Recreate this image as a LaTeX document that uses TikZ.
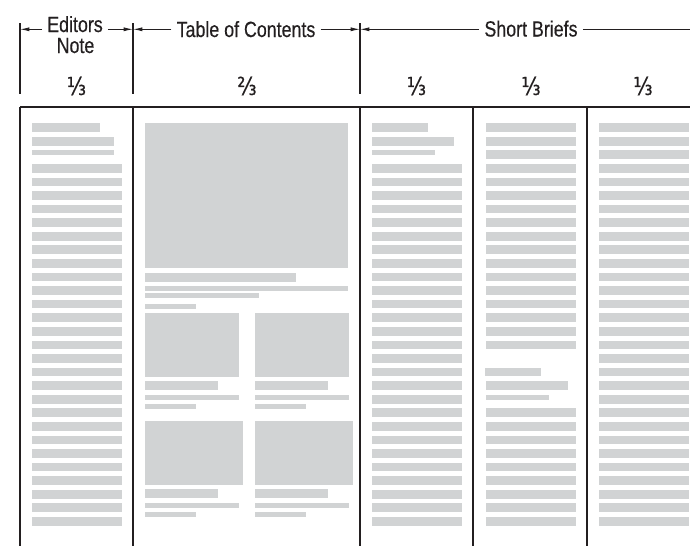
\documentclass[tikz,border=0pt]{standalone}
\usepackage{fontspec}
\setmainfont{Liberation Sans}[FakeStretch=0.81,FakeBold=0.3]
\newfontfamily\fracfont{DejaVu Sans}[FakeStretch=0.8,FakeBold=0.6]
\usetikzlibrary{arrows.meta}
\definecolor{barg}{HTML}{D1D3D4}
\definecolor{ink}{HTML}{231F20}
\begin{document}
\begin{tikzpicture}[x=0.75pt,y=-0.75pt,
  bar/.style={fill=barg},
  rule/.style={draw=ink,line width=0.9pt},
  dim/.style={draw=ink,line width=0.7pt,-{Latex[length=7pt,width=3pt]}},
  lbl/.style={font=\fontsize{16.5}{17}\selectfont,inner xsep=3.75pt,inner ysep=0pt,text=ink,anchor=base},
  fr/.style={font=\fracfont\fontsize{18.5}{19}\selectfont,inner sep=0pt,text=ink,anchor=base}]
\clip (0,0) rectangle (690,546);
\fill[white] (0,0) rectangle (690,546);
% ---------- bars ----------
\def\gy#1{164+13.577*(#1)}
% column 1
\fill[bar] (32,123.3) rectangle (100,132);
\fill[bar] (32,136.8) rectangle (114,145.5);
\fill[bar] (32,150.4) rectangle (114,155.1);
\foreach \i in {0,...,26}{\fill[bar] (32,{\gy{\i}}) rectangle (122,{\gy{\i}+8.7});}
% column 2
\fill[bar] (145,123) rectangle (348,268);
\fill[bar] (145,273) rectangle (296,281.7);
\fill[bar] (145,286) rectangle (348,290.7);
\fill[bar] (145,293) rectangle (259,297.7);
\fill[bar] (145,304) rectangle (196,308.7);
\fill[bar] (145,313) rectangle (239,377);
\fill[bar] (255,313) rectangle (349,377);
\fill[bar] (145,381) rectangle (218,389.7);
\fill[bar] (255,381) rectangle (328,389.7);
\fill[bar] (145,395) rectangle (239,399.7);
\fill[bar] (255,395) rectangle (349,399.7);
\fill[bar] (145,404) rectangle (196,408.7);
\fill[bar] (255,404) rectangle (306,408.7);
\fill[bar] (145,421) rectangle (243,485);
\fill[bar] (255,421) rectangle (353,485);
\fill[bar] (145,489) rectangle (218,497.7);
\fill[bar] (255,489) rectangle (328,497.7);
\fill[bar] (145,503) rectangle (239,507.7);
\fill[bar] (255,503) rectangle (349,507.7);
\fill[bar] (145,512) rectangle (196,516.7);
\fill[bar] (255,512) rectangle (306,516.7);
% column 3
\fill[bar] (372,123.3) rectangle (428,132);
\fill[bar] (372,136.8) rectangle (454,145.5);
\fill[bar] (372,150.4) rectangle (435,155.1);
\foreach \i in {0,...,26}{\fill[bar] (372,{\gy{\i}}) rectangle (462,{\gy{\i}+8.7});}
% column 4
\foreach \i in {-3,...,13,18,19,...,26}{\fill[bar] (486,{\gy{\i}}) rectangle (576,{\gy{\i}+8.7});}
\fill[bar] (485,{\gy{15}}) rectangle (541,{\gy{15}+8.7});
\fill[bar] (486,{\gy{16}}) rectangle (568,{\gy{16}+8.7});
\fill[bar] (486,{\gy{17}}) rectangle (549,{\gy{17}+4.7});
% column 5
\foreach \i in {-3,...,26}{\fill[bar] (599,{\gy{\i}}) rectangle (689,{\gy{\i}+8.7});}
% ---------- rules ----------
\draw[rule] (20,107) -- (690,107);
\foreach \x in {20,133,360,473,587}{\draw[rule] (\x,107) -- (\x,546);}
\coordinate (t0) at (20,29.3);
\coordinate (t1) at (133,29.3);
\coordinate (t2) at (360,29.3);
\coordinate (t3) at (700,29.3);
\draw[rule] (20,23) -- (20,94);
\draw[rule] (133,23) -- (133,94);
\draw[rule] (360,23) -- (360,94);
% ---------- labels ----------
\node[lbl] (ed1) at (75,32) {Editors};
\node[lbl] (ed2) at (75.5,53) {Note};
\node[lbl] (toc) at (246,37) {Table of Contents};
\node[lbl] (sb) at (531,36.5) {Short Briefs};
\draw[dim] (ed1.west |- t0) -- (t0);
\draw[dim] (ed1.east |- t0) -- (t1);
\draw[dim] (toc.west |- t0) -- (t1);
\draw[dim] (toc.east |- t0) -- (t2);
\draw[dim] (sb.west |- t0) -- (t2);
\draw[dim] (sb.east |- t0) -- (t3);
% ---------- fractions ----------
\node[fr] (f1) at (76.5,95) {⅓};
\node[fr] (f2) at (247,95) {⅔};
\node[fr] (f3) at (416.5,95) {⅓};
\node[fr] (f4) at (531,95) {⅓};
\node[fr] (f5) at (643,95) {⅓};
\end{tikzpicture}
\end{document}
